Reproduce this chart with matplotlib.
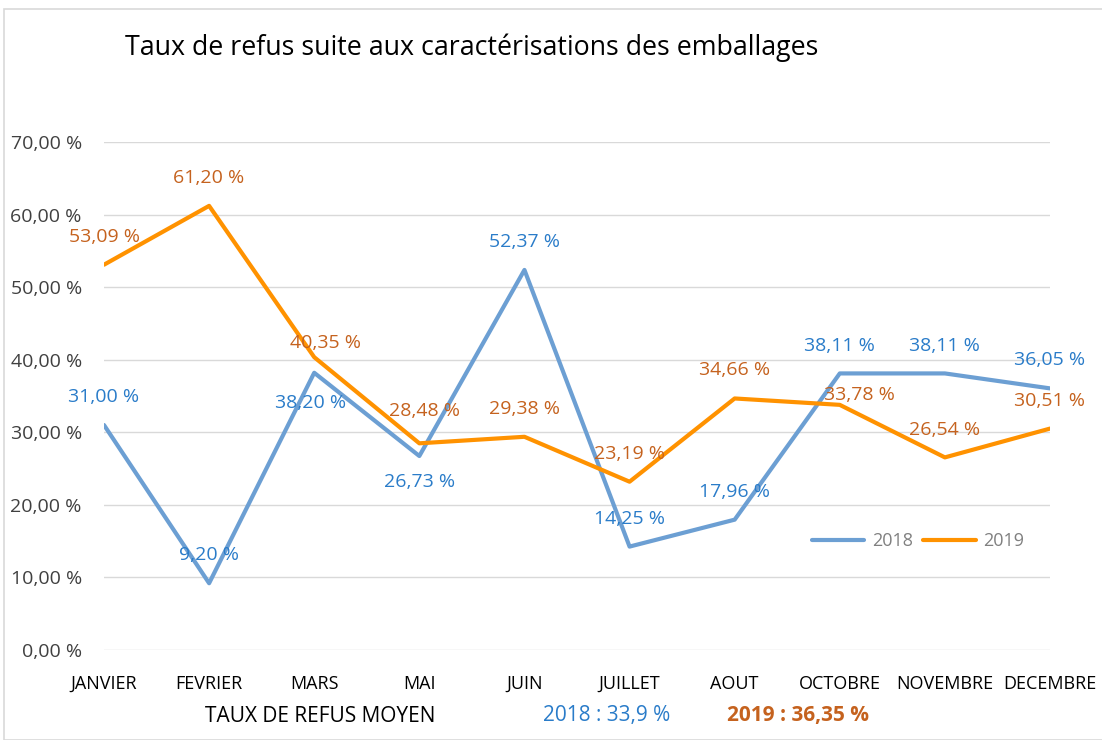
import matplotlib
matplotlib.use("Agg")
import matplotlib.pyplot as plt
from matplotlib.patches import Rectangle

months = ["JANVIER", "FEVRIER", "MARS", "MAI", "JUIN", "JUILLET", "AOUT",
          "OCTOBRE", "NOVEMBRE", "DECEMBRE"]
rate_2018 = [31.00, 9.20, 38.20, 26.73, 52.37, 14.25, 17.96, 38.11, 38.11, 36.05]
rate_2019 = [53.09, 61.20, 40.35, 28.48, 29.38, 23.19, 34.66, 33.78, 26.54, 30.51]
yticks = [0, 10, 20, 30, 40, 50, 60, 70]
title = "Taux de refus suite aux caractérisations des emballages"
avg_label = "TAUX DE REFUS MOYEN"
avg_2018 = "2018 : 33,9 %"
avg_2019 = "2019 : 36,35 %"

# label offsets in pixels (layout only)
off_2018 = [(0, 28), (0, 28), (-4, -30), (0, -26), (0, 28), (0, 28), (0, 28),
            (0, 27), (0, 27), (0, 28)]
off_2019 = [(0, 28), (0, 28), (11, 14), (5, 32), (0, 28), (0, 28), (0, 28),
            (20, 10), (0, 27), (0, 28)]

FONT = ["Open Sans", "DejaVu Sans"]
plt.rcParams["font.family"] = FONT

W, H = 1102, 740
fig = plt.figure(figsize=(W / 100, H / 100), dpi=100)
fig.patch.set_facecolor("white")
fig.patches.append(Rectangle((4 / W, 0), 1.1, 1 - 9 / H, transform=fig.transFigure,
                             fill=False, edgecolor="#D9D9D9", linewidth=1.2))

ax = fig.add_axes([104 / W, 1 - 650 / H, (1050 - 104) / W, (650 - 142) / H])
x = list(range(len(months)))
c18, c19 = "#6C9FD3", "#FF9200"
t18, t19 = "#2A7CC9", "#C5621E"
ax.plot(x, rate_2018, color=c18, lw=3, label="2018", solid_capstyle="round")
ax.plot(x, rate_2019, color=c19, lw=3, label="2019", solid_capstyle="round")

def fmt(v):
    return f"{v:.2f}".replace(".", ",") + " %"

for xi, v, o in zip(x, rate_2018, off_2018):
    ax.annotate(fmt(v), (xi, v), xytext=o, textcoords="offset pixels",
                ha="center", va="center", color=t18, fontsize=14)
for xi, v, o in zip(x, rate_2019, off_2019):
    ax.annotate(fmt(v), (xi, v), xytext=o, textcoords="offset pixels",
                ha="center", va="center", color=t19, fontsize=14)

ax.set_xlim(0, len(months) - 1)
ax.set_ylim(0, 70)
ax.set_yticks(yticks)
ax.set_yticklabels([f"{t:.2f}".replace(".", ",") + " %" for t in yticks])
ax.set_xticks(x)
ax.set_xticklabels(months)
ax.tick_params(axis="y", length=0, pad=16, labelsize=14, labelcolor="#404040")
ax.tick_params(axis="x", length=0, pad=18, labelsize=13, labelcolor="#000000")
ax.grid(axis="y", color="#D9D9D9", lw=1)
ax.set_axisbelow(True)
for s in ax.spines.values():
    s.set_visible(False)

leg = ax.legend(loc="center", bbox_to_anchor=((918 - 104) / (1050 - 104), (650 - 541) / (650 - 142)),
                ncol=2, frameon=False, fontsize=13, handlelength=2.9,
                columnspacing=0.6, handletextpad=0.4)
for t in leg.get_texts():
    t.set_color("#808080")

fig.text(125 / W, 1 - 48 / H, title, fontsize=19.3, ha="left", va="center", color="#000000")
fig.text(320 / W, 1 - 716 / H, avg_label, fontsize=15, ha="center", va="center", color="#000000")
fig.text(607 / W, 1 - 716 / H, avg_2018, fontsize=15, ha="center", va="center", color="#2A7CC9")
fig.text(798 / W, 1 - 716 / H, avg_2019, fontsize=15, ha="center", va="center",
         color="#C5621E", fontweight="bold")

fig.savefig("out.png", dpi=100, facecolor="white")
